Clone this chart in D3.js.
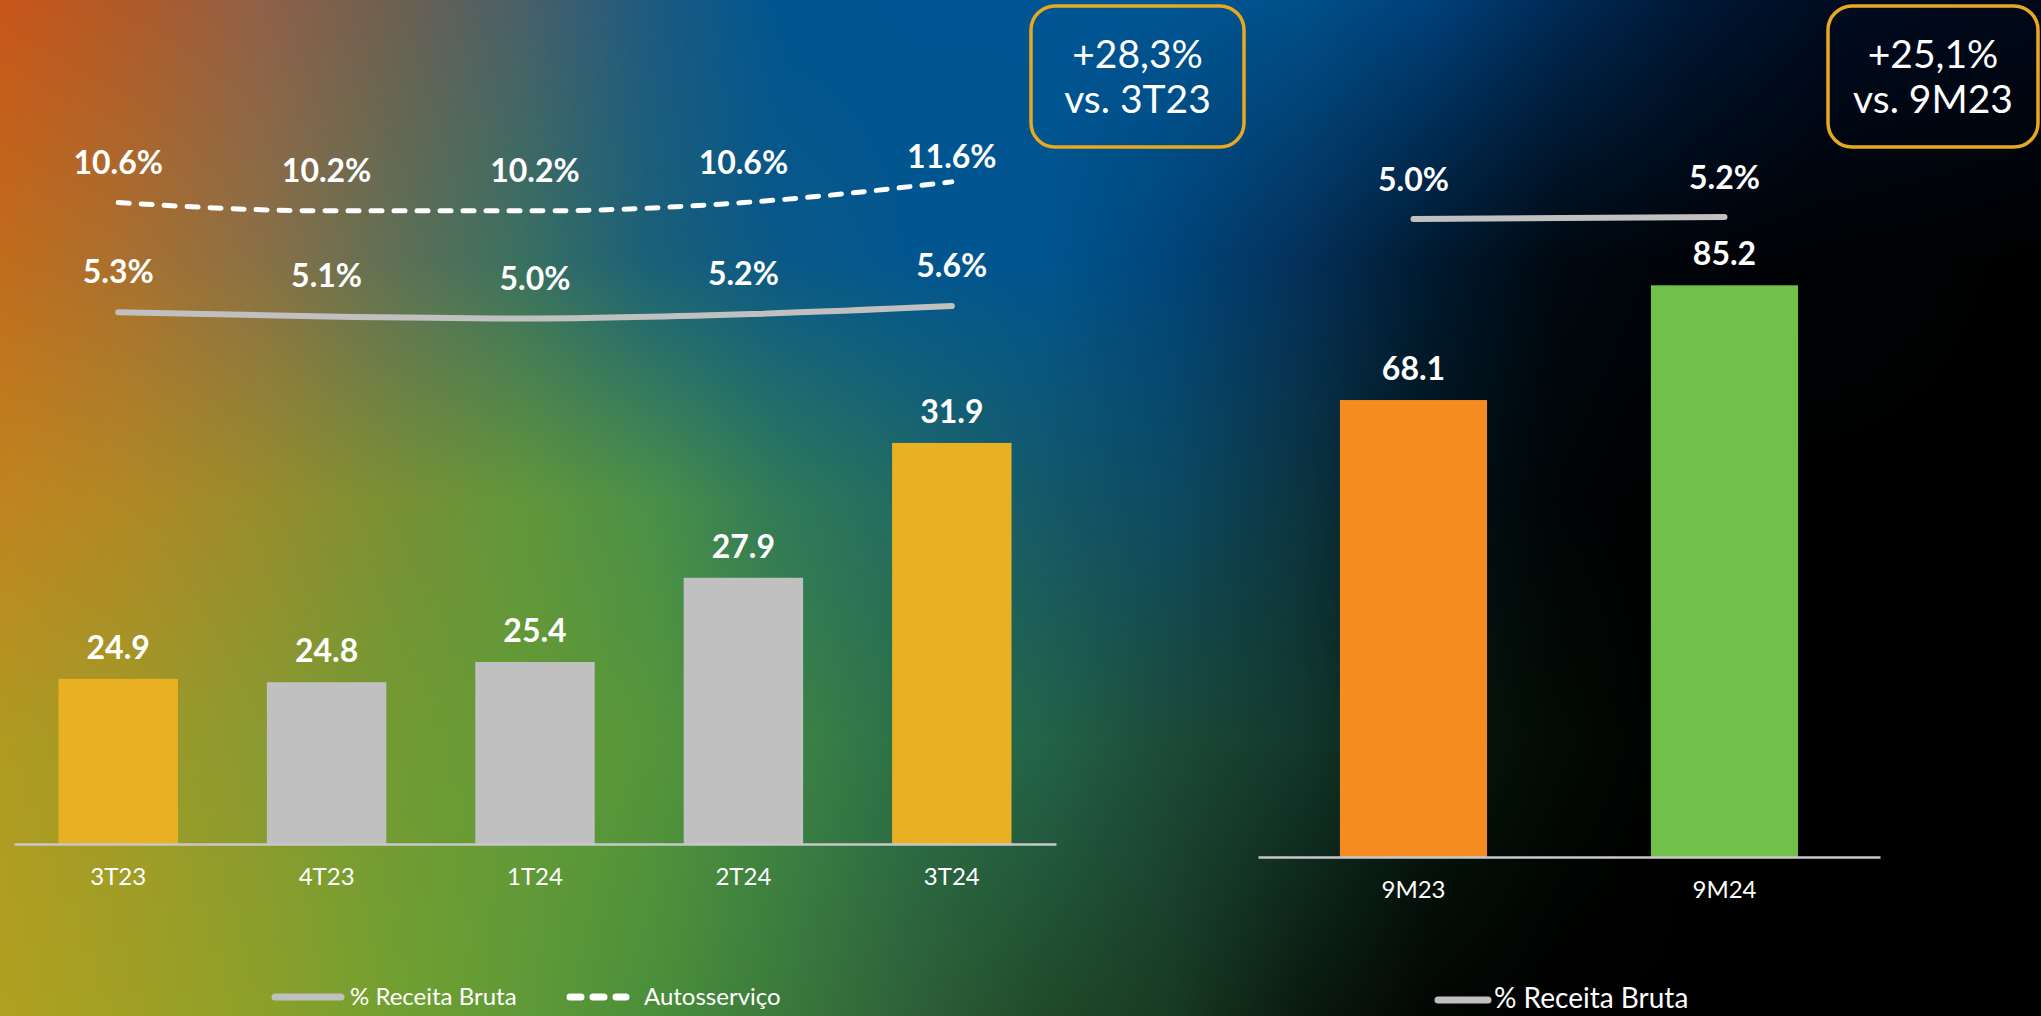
<!DOCTYPE html>
<html>
<head>
<meta charset="utf-8">
<script src="https://cdn.jsdelivr.net/npm/d3@7"></script>
<style>
  html, body { margin: 0; padding: 0; background: #000; overflow: hidden; }
  svg { display: block; font-family: Lato, "Open Sans", sans-serif; }
</style>
</head>
<body>
<svg id="chart" width="2041" height="1016"></svg>
<script>
// ---------- DATA ----------
const quarters = ["3T23", "4T23", "1T24", "2T24", "3T24"];
const quarterValues = [24.9, 24.8, 25.4, 27.9, 31.9];
const pctReceitaBruta = [5.3, 5.1, 5.0, 5.2, 5.6];
const pctAutosservico = [10.6, 10.2, 10.2, 10.6, 11.6];

const periods = ["9M23", "9M24"];
const periodValues = [68.1, 85.2];
const periodPctReceita = [5.0, 5.2];

const growthLines1 = ["+28,3%", "vs. 3T23"];
const growthLines2 = ["+25,1%", "vs. 9M23"];
const legendLabels = ["% Receita Bruta", "Autosserviço"];

// ---------- SETUP ----------
const W = 2041, H = 1016;
const svg = d3.select("#chart");

// background: smooth multi-stop gradient rendered on a canvas, placed as an SVG image
(function background() {
  const cols = [0,130,260,390,520,650,780,910,1040,1170,1300,1430,1560,1690,1820,2041];
  const rows = [0,260,500,740,1016];
  const grid = [
    ["#c8561a","#b05a28","#906048","#6e6050","#4a6068","#1e5a80","#005590","#005592","#005592","#005592","#00508a","#00407a","#002a55","#001835","#000c22","#000818"],
    ["#c06c1c","#a87030","#8a7045","#607055","#3a7060","#1a6078","#0a5888","#02568f","#005590","#00457a","#04305a","#001a30","#000810","#000308","#000204","#000000"],
    ["#c08420","#b08825","#988c2c","#7a9035","#62963a","#4a9048","#307a58","#226a62","#155868","#0c4a62","#0b3440","#021418","#000405","#000000","#000000","#000000"],
    ["#b09a22","#a09a28","#8a9a30","#729a34","#649a36","#56963a","#3e8445","#2a7048","#236448","#1c4a38","#12382c","#061a10","#030a04","#000000","#000000","#000000"],
    ["#b0a020","#a0a024","#8ca02a","#72a030","#609a38","#4a8f3a","#3a7a3c","#2e6038","#204a2a","#183a22","#0a1a0e","#030603","#000000","#000000","#000000","#000000"]
  ].map(r => r.map(c => { const o = d3.rgb(c); return [o.r, o.g, o.b]; }));
  const cv = document.createElement("canvas");
  cv.width = W; cv.height = H;
  const ctx = cv.getContext("2d");
  const img = ctx.createImageData(W, H);
  const cx = new Int32Array(W), tx = new Float32Array(W);
  for (let x = 0; x < W; x++) {
    let i = 0; while (i < cols.length - 2 && x >= cols[i + 1]) i++;
    cx[x] = i; tx[x] = (x - cols[i]) / (cols[i + 1] - cols[i]);
  }
  for (let y = 0; y < H; y++) {
    let j = 0; while (j < rows.length - 2 && y >= rows[j + 1]) j++;
    const ty = (y - rows[j]) / (rows[j + 1] - rows[j]);
    const r0 = grid[j], r1 = grid[j + 1];
    for (let x = 0; x < W; x++) {
      const i = cx[x], t = tx[x];
      const p = (y * W + x) * 4;
      for (let k = 0; k < 3; k++) {
        const a = r0[i][k] + (r0[i + 1][k] - r0[i][k]) * t;
        const b = r1[i][k] + (r1[i + 1][k] - r1[i][k]) * t;
        img.data[p + k] = a + (b - a) * ty;
      }
      img.data[p + 3] = 255;
    }
  }
  ctx.putImageData(img, 0, 0);
  svg.append("image").attr("x", 0).attr("y", 0).attr("width", W).attr("height", H)
    .attr("href", cv.toDataURL());
})();

const GOLD = "#eab024", GRAY = "#c0c0c0", ORANGE = "#f68c20", GREEN = "#72bf4a";
const LINEGRAY = "#c0c0c0", AXIS = "#c8c8c8";

// ---------- LEFT CHART ----------
const xL = d3.scaleBand().domain(quarters).range([14, 1056]).paddingInner(0.427).paddingOuter(0.2135);
const yL = d3.scaleLinear().domain([20, 35]).range([844, 338.5]);
const yPct = d3.scaleLinear().domain([0, 12]).range([422, 173.6]);

const left = svg.append("g");
left.selectAll("rect.bar").data(quarters).join("rect")
  .attr("class", "bar")
  .attr("x", d => xL(d))
  .attr("width", xL.bandwidth())
  .attr("y", (d, i) => yL(quarterValues[i]))
  .attr("height", (d, i) => yL.range()[0] - yL(quarterValues[i]))
  .attr("fill", (d, i) => (i === 0 || i === quarters.length - 1) ? GOLD : GRAY);

left.selectAll("text.val").data(quarters).join("text")
  .attr("class", "val")
  .attr("x", d => xL(d) + xL.bandwidth() / 2)
  .attr("y", (d, i) => yL(quarterValues[i]) - 20)
  .attr("text-anchor", "middle").attr("fill", "#fff")
  .attr("font-size", 32).attr("font-weight", 700)
  .text((d, i) => quarterValues[i].toFixed(1));

const axL = left.append("g").attr("transform", `translate(0,${yL.range()[0]})`)
  .call(d3.axisBottom(xL).tickSize(0).tickSizeOuter(0).tickPadding(24));
axL.select(".domain").attr("stroke", AXIS).attr("stroke-width", 2.5);
axL.selectAll("text").attr("fill", "#fff").attr("font-size", 24).attr("font-family", "Lato, sans-serif");

const lineL = d3.line()
  .x((d, i) => xL(quarters[i]) + xL.bandwidth() / 2)
  .y(d => yPct(d))
  .curve(d3.curveMonotoneX);

left.append("path").datum(pctAutosservico)
  .attr("d", lineL).attr("fill", "none").attr("stroke", "#fff")
  .attr("stroke-width", 5).attr("stroke-linecap", "round").attr("stroke-dasharray", "11,12");
left.append("path").datum(pctReceitaBruta)
  .attr("d", lineL).attr("fill", "none").attr("stroke", LINEGRAY)
  .attr("stroke-width", 6).attr("stroke-linecap", "round");

function pctLabels(g, data, cls) {
  g.selectAll("text." + cls).data(data).join("text")
    .attr("class", cls)
    .attr("x", (d, i) => xL(quarters[i]) + xL.bandwidth() / 2)
    .attr("y", d => Math.max(yPct(d) - 29, 168))
    .attr("text-anchor", "middle").attr("fill", "#fff")
    .attr("font-size", 32).attr("font-weight", 700)
    .text(d => d.toFixed(1) + "%");
}
pctLabels(left, pctAutosservico, "pa");
pctLabels(left, pctReceitaBruta, "pr");

// left legend
const lg = svg.append("g");
lg.append("line").attr("x1", 275).attr("x2", 341).attr("y1", 997).attr("y2", 997)
  .attr("stroke", LINEGRAY).attr("stroke-width", 7).attr("stroke-linecap", "round");
lg.append("text").attr("x", 350).attr("y", 1005).attr("fill", "#fff").attr("font-size", 24)
  .text(legendLabels[0]);
lg.append("line").attr("x1", 570).attr("x2", 626).attr("y1", 997).attr("y2", 997)
  .attr("stroke", "#fff").attr("stroke-width", 7).attr("stroke-linecap", "round")
  .attr("stroke-dasharray", "11,12");
lg.append("text").attr("x", 644).attr("y", 1005).attr("fill", "#fff").attr("font-size", 24)
  .text(legendLabels[1]);

// ---------- RIGHT CHART ----------
const xR = d3.scaleBand().domain(periods).range([1258, 1880]).paddingInner(0.527).paddingOuter(0.2635);
const yR = d3.scaleLinear().domain([0, 100]).range([857, 186]);
const yRPct = d3.scaleLinear().domain([0, 10]).range([269, 169]);

const right = svg.append("g");
right.selectAll("rect.bar").data(periods).join("rect")
  .attr("class", "bar")
  .attr("x", d => xR(d))
  .attr("width", xR.bandwidth())
  .attr("y", (d, i) => yR(periodValues[i]))
  .attr("height", (d, i) => yR(0) - yR(periodValues[i]))
  .attr("fill", (d, i) => i === 0 ? ORANGE : GREEN);

right.selectAll("text.val").data(periods).join("text")
  .attr("class", "val")
  .attr("x", d => xR(d) + xR.bandwidth() / 2)
  .attr("y", (d, i) => yR(periodValues[i]) - 20)
  .attr("text-anchor", "middle").attr("fill", "#fff")
  .attr("font-size", 32).attr("font-weight", 700)
  .text((d, i) => periodValues[i].toFixed(1));

const axR = right.append("g").attr("transform", `translate(0,${yR(0)})`)
  .call(d3.axisBottom(xR).tickSize(0).tickSizeOuter(0).tickPadding(24));
axR.select(".domain").attr("stroke", AXIS).attr("stroke-width", 2.5);
axR.selectAll("text").attr("fill", "#fff").attr("font-size", 24).attr("font-family", "Lato, sans-serif");

const lineR = d3.line()
  .x((d, i) => xR(periods[i]) + xR.bandwidth() / 2)
  .y(d => yRPct(d));
right.append("path").datum(periodPctReceita)
  .attr("d", lineR).attr("fill", "none").attr("stroke", LINEGRAY)
  .attr("stroke-width", 6).attr("stroke-linecap", "round");
right.selectAll("text.pr").data(periodPctReceita).join("text")
  .attr("class", "pr")
  .attr("x", (d, i) => xR(periods[i]) + xR.bandwidth() / 2)
  .attr("y", d => yRPct(d) - 28)
  .attr("text-anchor", "middle").attr("fill", "#fff")
  .attr("font-size", 32).attr("font-weight", 700)
  .text(d => d.toFixed(1) + "%");

// right legend
const rg = svg.append("g");
rg.append("line").attr("x1", 1438).attr("x2", 1488).attr("y1", 1000).attr("y2", 1000)
  .attr("stroke", LINEGRAY).attr("stroke-width", 7).attr("stroke-linecap", "round");
rg.append("text").attr("x", 1494).attr("y", 1008).attr("fill", "#fff").attr("font-size", 28)
  .text(legendLabels[0]);

// ---------- GROWTH BOXES ----------
function growthBox(x, y, w, h, lines) {
  const g = svg.append("g");
  g.append("rect").attr("x", x).attr("y", y).attr("width", w).attr("height", h)
    .attr("rx", 24).attr("ry", 24).attr("fill", "none")
    .attr("stroke", "#e8a820").attr("stroke-width", 3.5);
  g.selectAll("text").data(lines).join("text")
    .attr("x", x + w / 2)
    .attr("y", (d, i) => y + 62 + i * 45)
    .attr("text-anchor", "middle").attr("fill", "#fff")
    .attr("font-size", 39)
    .text(d => d);
}
growthBox(1031, 6, 213, 141, growthLines1);
growthBox(1828, 6, 210, 141, growthLines2);
</script>
</body>
</html>
